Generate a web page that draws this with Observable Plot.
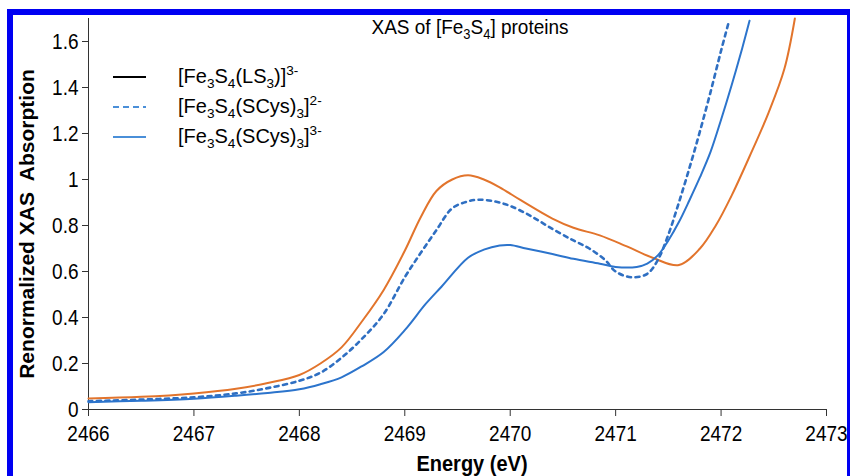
<!DOCTYPE html>
<html>
<head>
<meta charset="utf-8">
<script src="https://cdn.jsdelivr.net/npm/d3@7"></script>
<script src="https://cdn.jsdelivr.net/npm/@observablehq/plot@0.6"></script>
<style>
  html, body { margin: 0; padding: 0; background: #fff; }
  body { width: 850px; height: 476px; overflow: hidden; position: relative;
         font-family: "Liberation Sans", Arial, Helvetica, sans-serif; color: #000; }
  #chart { position: absolute; left: 0; top: 0; }
  #frame { position: absolute; left: 7px; top: 9px; width: 834px; height: 480px;
           border-left: 6px solid #0000f2; border-top: 6px solid #0000f2; border-right: 3px solid #0000f2;
           pointer-events: none; }
  #title { position: absolute; left: 470px; top: 15px; font-size: 19px; white-space: nowrap;
           transform: translateX(-50%) scaleY(1.1); transform-origin: center top; }
  #ylabel { position: absolute; left: 27px; top: 224px; font-size: 20px; font-weight: bold;
            white-space: nowrap; transform: translate(-50%, -50%) rotate(-90deg) scaleX(1.05); }
  #xlabel { position: absolute; left: 472px; top: 451px; font-size: 20px; font-weight: bold;
            white-space: nowrap; transform: translateX(-50%) scaleY(1.1); transform-origin: center top; }
  #legend { position: absolute; left: 113px; top: 62px; }
  .row { display: flex; align-items: center; height: 30px; font-size: 20px; }
  .row svg { margin-right: 32px; }
  sub, sup { font-size: 68%; }
  sub { vertical-align: -0.35em; }
  sup { vertical-align: 0.62em; }
</style>
</head>
<body>
<div id="chart"></div>
<div id="title">XAS of [Fe<sub>3</sub>S<sub>4</sub>] proteins</div>
<div id="legend"></div>
<div id="ylabel">Renormalized XAS&nbsp; Absorption</div>
<div id="xlabel">Energy (eV)</div>
<div id="frame"></div>
<script>
// Axis ticks
const xTicks = [2466, 2467, 2468, 2469, 2470, 2471, 2472, 2473];
const yTicks = [0, 0.2, 0.4, 0.6, 0.8, 1, 1.2, 1.4, 1.6];

// [Fe3S4(LS3)]3- model complex
const lsEnergy = [2466.0, 2466.5, 2467.0, 2467.4, 2467.7, 2468.0, 2468.2, 2468.4, 2468.6, 2468.8,
  2469.0, 2469.15, 2469.3, 2469.45, 2469.6, 2469.75, 2469.9, 2470.1, 2470.4, 2470.6,
  2470.85, 2471.1, 2471.35, 2471.6, 2471.8, 2471.95, 2472.1, 2472.27, 2472.45, 2472.6, 2472.7];
const lsAbs = [0.048, 0.055, 0.07, 0.09, 0.115, 0.15, 0.2, 0.27, 0.387, 0.52,
  0.69, 0.835, 0.95, 1.0, 1.018, 1.0, 0.966, 0.91, 0.83, 0.79,
  0.757, 0.71, 0.66, 0.628, 0.70, 0.80, 0.93, 1.10, 1.29, 1.48, 1.70];

// [Fe3S4(SCys)3]2- protein (oxidized)
const ox2Energy = [2466.0, 2466.5, 2467.0, 2467.4, 2467.7, 2468.0, 2468.2, 2468.4, 2468.6, 2468.8,
  2469.0, 2469.15, 2469.3, 2469.45, 2469.6, 2469.7, 2469.85, 2470.0, 2470.2, 2470.4,
  2470.6, 2470.75, 2470.9, 2471.0, 2471.15, 2471.3, 2471.4, 2471.5, 2471.6, 2471.7,
  2471.8, 2471.9, 2472.0, 2472.07];
const ox2Abs = [0.036, 0.043, 0.053, 0.07, 0.093, 0.125, 0.16, 0.225, 0.31, 0.415,
  0.575, 0.68, 0.78, 0.875, 0.905, 0.912, 0.905, 0.885, 0.84, 0.785,
  0.735, 0.70, 0.65, 0.60, 0.575, 0.59, 0.65, 0.76, 0.90, 1.05,
  1.21, 1.38, 1.56, 1.68];

// [Fe3S4(SCys)3]3- protein (reduced)
const red3Energy = [2466.0, 2466.5, 2467.0, 2467.4, 2467.7, 2468.0, 2468.2, 2468.4, 2468.6, 2468.8,
  2469.0, 2469.2, 2469.35, 2469.6, 2469.75, 2469.9, 2470.0, 2470.15, 2470.4, 2470.6,
  2470.85, 2471.0, 2471.2, 2471.3, 2471.4, 2471.5, 2471.6, 2471.7, 2471.8, 2471.9,
  2472.0, 2472.1, 2472.2, 2472.27];
const red3Abs = [0.032, 0.038, 0.047, 0.06, 0.072, 0.088, 0.11, 0.14, 0.19, 0.25,
  0.345, 0.46, 0.535, 0.66, 0.695, 0.713, 0.715, 0.70, 0.676, 0.655,
  0.634, 0.62, 0.62, 0.634, 0.67, 0.735, 0.815, 0.91, 1.01, 1.12,
  1.26, 1.41, 1.57, 1.69];

const series = [
  {key: "ls3",  energy: lsEnergy,   abs: lsAbs,   stroke: "#e2742c", dash: null,  width: 2,
   legendColor: "#000", legendDash: null,
   label: "[Fe<sub>3</sub>S<sub>4</sub>(LS<sub>3</sub>)]<sup>3-</sup>"},
  {key: "ox2",  energy: ox2Energy,  abs: ox2Abs,  stroke: "#2f6fc2", dash: "4 4.5", width: 2.6,
   legendColor: "#4a8fd8", legendDash: "6 4",
   label: "[Fe<sub>3</sub>S<sub>4</sub>(SCys)<sub>3</sub>]<sup>2-</sup>"},
  {key: "red3", energy: red3Energy, abs: red3Abs, stroke: "#2c74cc", dash: null,  width: 2,
   legendColor: "#4a8fd8", legendDash: null,
   label: "[Fe<sub>3</sub>S<sub>4</sub>(SCys)<sub>3</sub>]<sup>3-</sup>"}
];

const lineMarks = series.map(s => {
  const rows = s.energy.map((e, i) => ({energy: e, abs: s.abs[i]}));
  return Plot.line(rows, {x: "energy", y: "abs", stroke: s.stroke, strokeWidth: s.width,
    strokeDasharray: s.dash, curve: "catmull-rom"});
});

const plot = Plot.plot({
  width: 850,
  height: 476,
  marginLeft: 88,
  marginRight: 24,
  marginTop: 18,
  marginBottom: 67,
  style: {fontFamily: '"Liberation Sans", Arial, sans-serif', fontSize: "19px", color: "#000",
          background: "transparent", overflow: "visible"},
  x: {domain: [2466, 2473]},
  y: {domain: [0, 1.7]},
  marks: [
    Plot.axisX({ticks: xTicks, tickFormat: d => String(d), tickSize: 7, tickPadding: 9,
                label: null, stroke: "#333"}),
    Plot.axisY({ticks: yTicks, tickFormat: d => String(d), tickSize: 6, tickPadding: 4,
                label: null, stroke: "#333"}),
    Plot.ruleX([2466], {y1: 0, y2: 1.7, stroke: "#333"}),
    Plot.ruleY([0], {x1: 2466, x2: 2473, stroke: "#333"}),
    ...lineMarks
  ]
});
document.getElementById("chart").appendChild(plot);

// Tick labels are set slightly tall and narrow
d3.select(plot).selectAll('g[aria-label="x-axis tick label"] text, g[aria-label="y-axis tick label"] text')
  .attr("transform", function () {
    const t = this.getAttribute("transform") || "";
    return t + " scale(1,1.15)";
  });

// Legend rows
const legend = d3.select("#legend");
series.forEach(s => {
  const row = legend.append("div").attr("class", "row");
  const sw = row.append("svg").attr("width", 33).attr("height", 10);
  sw.append("line").attr("x1", 0).attr("x2", 33).attr("y1", 5).attr("y2", 5)
    .attr("stroke", s.legendColor).attr("stroke-width", 2)
    .attr("stroke-dasharray", s.legendDash);
  row.append("span").html(s.label);
});
</script>
</body>
</html>
